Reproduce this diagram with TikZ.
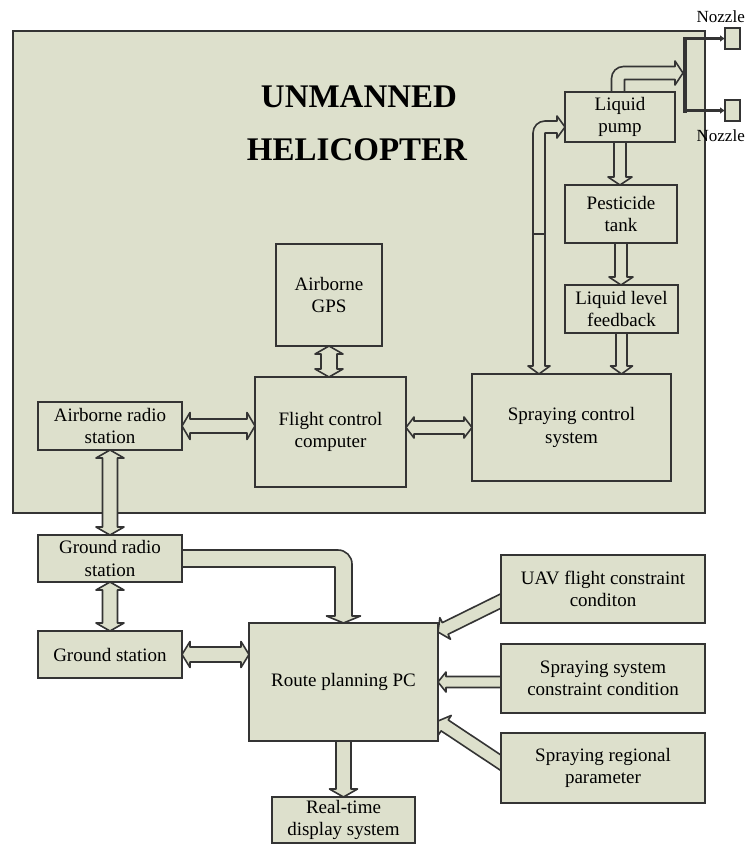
\documentclass[tikz,border=0pt]{standalone}
\usepackage{fontspec}
\setmainfont{Liberation Serif}
\usetikzlibrary{calc,arrows.meta}
\definecolor{boxfill}{HTML}{DDE0CC}
\definecolor{linecol}{HTML}{343434}
\pgfdeclarelayer{bg}
\pgfdeclarelayer{arr}
\pgfsetlayers{bg,arr,main}
% box: name, x1, y1, x2, y2, text (pixel coordinates)
\newcommand{\bx}[6]{\node[box, minimum width={(#4-#2)*1pt}, minimum height={(#5-#3)*1pt}] (#1) at ({(#2+#4)/2},{(#3+#5)/2}) {#6};}
% double-headed block arrow: from, to, half shaft width, half head width
\newcommand{\dArrow}[4]{%
 \filldraw[arrow] (#1) -- ($(#1)!8pt!(#2)!#4pt!90:(#2)$) -- ($(#1)!8pt!(#2)!#3pt!90:(#2)$)
  -- ($(#2)!8pt!(#1)!#3pt!-90:(#1)$) -- ($(#2)!8pt!(#1)!#4pt!-90:(#1)$) -- (#2)
  -- ($(#2)!8pt!(#1)!#4pt!90:(#1)$) -- ($(#2)!8pt!(#1)!#3pt!90:(#1)$)
  -- ($(#1)!8pt!(#2)!#3pt!-90:(#2)$) -- ($(#1)!8pt!(#2)!#4pt!-90:(#2)$) -- cycle;}
% single-headed block arrow
\newcommand{\sArrow}[4]{%
 \filldraw[arrow] ($(#1)!#3pt!90:(#2)$) -- ($(#2)!8pt!(#1)!#3pt!-90:(#1)$)
  -- ($(#2)!8pt!(#1)!#4pt!-90:(#1)$) -- (#2)
  -- ($(#2)!8pt!(#1)!#4pt!90:(#1)$) -- ($(#2)!8pt!(#1)!#3pt!90:(#1)$)
  -- ($(#1)!#3pt!-90:(#2)$) -- cycle;}
\begin{document}
\begin{tikzpicture}[x=1pt,y=-1pt,
  box/.style={draw=linecol, line width=1.8pt, fill=boxfill, inner sep=0pt, outer sep=0pt,
    align=center, font=\fontsize{19}{22.5}\selectfont, text=black},
  arrow/.style={draw=linecol, fill=boxfill, line width=1.6pt, line join=round},
  titlefont/.style={font=\fontsize{33}{40}\selectfont\bfseries, text=black, inner sep=0pt},
  nozlabel/.style={font=\fontsize{17}{20}\selectfont, text=black, inner sep=0pt},
  nzline/.style={draw=linecol, line width=2.5pt, -{Latex[length=5pt,width=7pt]}}]
\useasboundingbox (0,0) rectangle (747,844);
\begin{pgfonlayer}{bg}
  \fill[white] (0,0) rectangle (747,844);
  \node[draw=linecol, line width=2.5pt, fill=boxfill, inner sep=0pt, outer sep=0pt,
    minimum width=692pt, minimum height=482pt] (panel) at (359,272) {};
\end{pgfonlayer}

% title
\node[titlefont, anchor=base] (t1) at (359,107) {UNMANNED};
\node[titlefont, anchor=base] (t2) at (357,160) {HELICOPTER};

% boxes
\bx{gps}{276}{244}{382}{346}{Airborne\\GPS}
\bx{fcc}{255}{377}{406}{487}{Flight control\\computer}
\bx{scs}{472}{374}{671}{481}{Spraying control\\system}
\bx{ars}{38}{402}{182}{450}{Airborne radio\\station}
\bx{pump}{565}{92}{675}{142}{Liquid\\pump}
\bx{tank}{565}{185}{677}{243}{Pesticide\\tank}
\bx{level}{565}{285}{678}{333}{Liquid level\\feedback}
\bx{grs}{38}{535}{182}{582}{Ground radio\\station}
\bx{gs}{38}{631}{182}{678}{Ground station}
\bx{rp}{249}{623}{438}{741}{Route planning PC}
\bx{uav}{501}{555}{705}{623}{UAV flight constraint\\conditon}
\bx{ssc}{501}{644}{705}{713}{Spraying system\\constraint condition}
\bx{srp}{501}{733}{705}{803}{Spraying regional\\parameter}
\bx{rtd}{272}{797}{415}{843}{Real-time\\display system}
\bx{nz1}{725}{28}{740}{49}{}
\bx{nz2}{725}{100}{740}{121}{}
\node[nozlabel, anchor=base east] (nl1) at (745,22) {Nozzle};
\node[nozlabel, anchor=base east] (nl2) at (745,141) {Nozzle};

% connector end points
\coordinate (gA) at (gps.south);  \coordinate (gB) at (gps.south |- fcc.north);
\coordinate (aA) at (ars.east);   \coordinate (aB) at (ars.east -| fcc.west);
\coordinate (fA) at (fcc.east |- scs.west); \coordinate (fB) at (scs.west);
\coordinate (rA) at (ars.south);  \coordinate (rB) at (ars.south |- grs.north);
\coordinate (sA) at (grs.south);  \coordinate (sB) at (gs.north);
\coordinate (hA) at (gs.east);    \coordinate (hB) at (gs.east -| rp.west);
\coordinate (dA) at (rp.south);   \coordinate (dB) at (rp.south |- rtd.north);
\coordinate (uA) at ($(uav.west)+(10,7)$);  \coordinate (uB) at ($(rp.north east)+(0,9)$);
\coordinate (cA) at (ssc.west |- rp.east);  \coordinate (cB) at (rp.east);
\coordinate (pA) at ($(srp.west)+(10,1.5)$); \coordinate (pB) at ($(rp.south east)+(0,-20)$);
\coordinate (tA) at (pump.south); \coordinate (tB) at (pump.south |- tank.north);
\coordinate (lA) at (tank.south); \coordinate (lB) at (tank.south |- level.north);
\coordinate (kA) at (level.south); \coordinate (kB) at (level.south |- scs.north);
\coordinate (mtop) at (685,37);
\coordinate (mbot) at (685,113);
\coordinate (mmid) at (683,73);
\coordinate (sprayTop) at ($(scs.north west)+(67,0)$);
\coordinate (pumpIn) at ($(pump.west)+(0,10)$);

\begin{pgfonlayer}{arr}
  \dArrow{gA}{gB}{8}{14}
  \dArrow{aA}{aB}{7}{13.5}
  \dArrow{fA}{fB}{6.5}{10.5}
  \dArrow{rA}{rB}{7.5}{14}
  \dArrow{sA}{sB}{7.5}{14}
  \dArrow{hA}{hB}{7.5}{13}
  \sArrow{dA}{dB}{7.5}{14}
  \sArrow{uA}{uB}{6.5}{12}
  \sArrow{cA}{cB}{5.5}{10}
  \sArrow{pA}{pB}{6.5}{12}
  \sArrow{tA}{tB}{6}{12}
  \sArrow{lA}{lB}{6}{12}
  \sArrow{kA}{kB}{5.5}{11}
  % ground radio station -> route planning PC (bent)
  \filldraw[arrow] let \p1=(grs.east), \p2=(rp.north) in
    ({\x1-3pt},{\y1+8.5pt}) -- ({\x2-5.5pt},{\y1+8.5pt})
    arc[start angle=90, end angle=0, radius=14pt]
    -- ({\x2+8.5pt},{\y2+7pt}) -- ({\x2+17pt},{\y2+7pt}) -- (\x2,\y2)
    -- ({\x2-17pt},{\y2+7pt}) -- ({\x2-8.5pt},{\y2+7pt})
    -- ({\x2-8.5pt},{\y1-8.5pt}) -- ({\x1-3pt},{\y1-8.5pt}) -- cycle;
  % liquid pump -> nozzle manifold (bent)
  \filldraw[arrow] let \p1=(pump.north), \p2=(mmid) in
    ({\x1-8.5pt},{\y1-3pt}) -- ({\x1-8.5pt},{\y2-5.5pt})
    arc[start angle=180, end angle=90, radius=12pt]
    -- ({\x2-8pt},{\y2+6.5pt}) -- ({\x2-8pt},{\y2+12pt}) -- (\x2,\y2)
    -- ({\x2-8pt},{\y2-12pt}) -- ({\x2-8pt},{\y2-6.5pt})
    -- ({\x1+4.5pt},{\y2-6.5pt}) -- ({\x1+4.5pt},{\y1-3pt}) -- cycle;
  % spraying control system <-> liquid pump (bent, two heads)
  \filldraw[arrow] let \p1=(sprayTop), \p2=(pumpIn) in
    (\x1,\y1) -- ({\x1+11pt},{\y1+8pt}) -- ({\x1+6pt},{\y1+8pt})
    -- ({\x1+6pt},{\y2-6pt}) -- ({\x2-8pt},{\y2-6pt}) -- ({\x2-8pt},{\y2-11pt})
    -- (\x2,\y2) -- ({\x2-8pt},{\y2+11pt}) -- ({\x2-8pt},{\y2+6pt})
    -- ({\x1+6pt},{\y2+6pt}) arc[start angle=90, end angle=180, radius=12pt]
    -- ({\x1-6pt},{\y1+8pt}) -- ({\x1-11pt},{\y1+8pt}) -- cycle;
  \draw[arrow] let \p1=(sprayTop) in ({\x1-6pt},-234pt) -- ({\x1+6pt},-234pt);
\end{pgfonlayer}

% nozzle manifold
\draw[draw=linecol, line width=3.5pt] (mtop) -- (mbot);
\draw[nzline] (nz1.west -| mtop) -- (nz1.west);
\draw[nzline] (nz2.west -| mbot) -- (nz2.west);
\end{tikzpicture}
\end{document}
